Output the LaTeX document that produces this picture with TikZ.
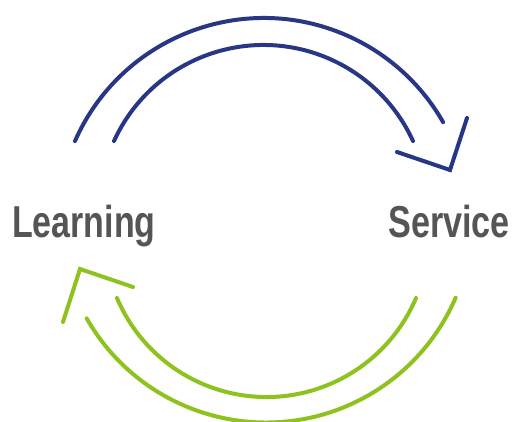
\documentclass[tikz,border=0pt]{standalone}
\usepackage{fontspec}
\setmainfont{Liberation Sans}
\definecolor{cyclenavy}{RGB}{40,54,134}
\definecolor{cyclegreen}{RGB}{141,194,31}
\definecolor{labelgray}{RGB}{85,85,85}
\begin{document}
\begin{tikzpicture}[x=1pt,y=1pt,
  cyclearc/.style={line width=4pt,line cap=round,line join=miter},
  cyclelabel/.style={inner sep=0pt,anchor=base west,text=labelgray,
    font=\fontsize{44.7pt}{50pt}\selectfont\bfseries}]
\useasboundingbox (0,0) rectangle (514,421);
% top arrow: service
\draw [cyclearc,cyclenavy] ([shift={(156.2:206.4)}]263.8,196.6) arc (156.2:29.7:206.4);
\draw [cyclearc,cyclenavy] ([shift={(155.4:164.4)}]263.5,211.6) arc (155.4:24.6:164.4);
\coordinate (navyin) at (397,269);
\coordinate (navytip) at (450,251);
\coordinate (navyout) at (467,303);
\draw [cyclearc,cyclenavy] (navyin) -- (navytip) -- (navyout);
% bottom arrow: learning
\draw [cyclearc,cyclegreen] ([shift={(209.7:206.5)}]266,205) arc (209.7:336.7:206.5);
\draw [cyclearc,cyclegreen] ([shift={(203:162.4)}]266.5,186.4) arc (203:337:162.4);
\coordinate (greenin) at (133,134);
\coordinate (greentip) at (80,152);
\coordinate (greenout) at (63,99);
\draw [cyclearc,cyclegreen] (greenin) -- (greentip) -- (greenout);
% labels
\node (learning) [cyclelabel] at (12,184) {\scalebox{0.76}[1]{Learning}};
\node (service) [cyclelabel] at (388,184) {\scalebox{0.765}[1]{Service}};
\end{tikzpicture}
\end{document}
